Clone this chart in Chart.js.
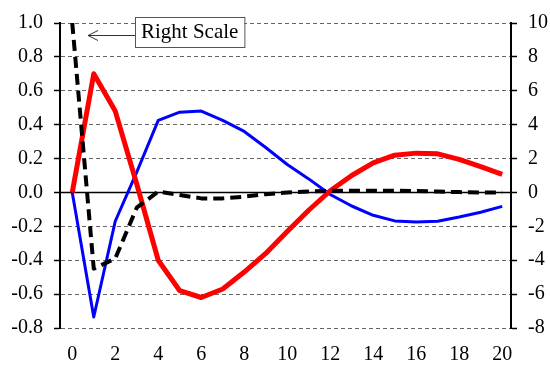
<!DOCTYPE html>
<html>
<head>
<meta charset="utf-8">
<script src="https://cdn.jsdelivr.net/npm/chart.js@4"></script>
<style>
  html, body { margin:0; padding:0; background:#fff; }
  #wrap { width:550px; height:365px; position:relative; }
</style>
</head>
<body>
<div id="wrap"><canvas id="chart"></canvas></div>
<script>
/* Impulse responses — two series on the left scale, one (dashed) on the right scale */

const periods = [0,1,2,3,4,5,6,7,8,9,10,11,12,13,14,15,16,17,18,19,20];
const redSeries = [0, 0.70, 0.48, 0.05, -0.40, -0.58, -0.62, -0.57, -0.47, -0.36, -0.23,
                   -0.105, 0.01, 0.10, 0.175, 0.22, 0.232, 0.228, 0.195, 0.152, 0.107];
const blueSeries = [0, -0.735, -0.17, 0.12, 0.425, 0.474, 0.48, 0.425, 0.36, 0.265, 0.165,
                    0.08, -0.012, -0.08, -0.135, -0.168, -0.175, -0.17, -0.145, -0.117, -0.082];
const dashedSeries = [10, -4.5, -3.9, -0.9, 0.05, -0.15, -0.35, -0.35, -0.25, -0.1, 0,
                      0.05, 0.1, 0.1, 0.1, 0.1, 0.08, 0.05, 0.02, 0, 0];
const xTicks = [0,2,4,6,8,10,12,14,16,18,20];
const noteText = 'Right Scale';

const FONT = "'Liberation Serif', 'Times New Roman', serif";
const pts = arr => arr.map((v,i) => ({x:periods[i], y:v}));

// solid zero line across the plot
const zeroLine = {
  id:'zeroLine',
  beforeDatasetsDraw(chart){
    const {ctx, chartArea:a, scales:{y}} = chart;
    const py = Math.round(y.getPixelForValue(0)) + 0.5;
    ctx.save();
    ctx.strokeStyle = '#000'; ctx.lineWidth = 1.5;
    ctx.beginPath(); ctx.moveTo(a.left, py); ctx.lineTo(a.right, py); ctx.stroke();
    ctx.restore();
  }
};

// "Right Scale" callout with arrow
const callout = {
  id:'callout',
  afterDraw(chart){
    const {ctx} = chart;
    ctx.save();
    ctx.font = '21px ' + FONT;
    const w = ctx.measureText(noteText).width;
    const bx = 135, by = 17, bw = w + 12, bh = 30;
    ctx.fillStyle = '#fff';
    ctx.fillRect(bx, by, bw, bh);
    ctx.strokeStyle = '#555'; ctx.lineWidth = 1;
    ctx.strokeRect(bx + 0.5, by + 0.5, bw, bh);
    ctx.fillStyle = '#000'; ctx.textBaseline = 'alphabetic';
    ctx.fillText(noteText, bx + 6, by + 21);
    // arrow
    const ay = 35.5, tip = 88;
    ctx.strokeStyle = '#333'; ctx.lineWidth = 1;
    ctx.beginPath(); ctx.moveTo(bx, ay); ctx.lineTo(tip, ay); ctx.stroke();
    ctx.beginPath(); ctx.moveTo(tip + 10, ay - 5); ctx.lineTo(tip, ay); ctx.lineTo(tip + 10, ay + 5); ctx.stroke();
    ctx.restore();
  }
};

new Chart(document.getElementById('chart'), {
  type:'line',
  data:{
    datasets:[
      {data:pts(dashedSeries), yAxisID:'y2', borderColor:'#000', borderWidth:4, borderDash:[11,6]},
      {data:pts(redSeries), yAxisID:'y', borderColor:'#ff0000', borderWidth:5},
      {data:pts(blueSeries), yAxisID:'y', borderColor:'#0000ff', borderWidth:3}
    ]
  },
  options:{
    responsive:true, maintainAspectRatio:false, animation:false,
    layout:{padding:{top:20, left:0, right:0, bottom:0}},
    elements:{point:{radius:0}, line:{tension:0, borderJoinStyle:'round', borderCapStyle:'butt'}},
    plugins:{legend:{display:false}, tooltip:{enabled:false}},
    scales:{
      x:{
        type:'linear', min:-0.57, max:20.41,
        grid:{display:false, drawTicks:false}, border:{display:false},
        afterBuildTicks: s => { s.ticks = xTicks.map(v => ({value:v})); },
        afterFit: s => { s.height = 37; },
        ticks:{color:'#000', font:{family:FONT, size:20}, padding:15, maxRotation:0}
      },
      y:{
        position:'left', min:-0.8, max:1.0,
        ticks:{stepSize:0.2, color:'#000', font:{family:FONT, size:20}, padding:11,
               callback: v => Number(v).toFixed(1)},
        grid:{color:'#666', lineWidth:1, tickLength:6, tickColor:'#000', tickWidth:1.5},
        border:{color:'#000', width:2, dash:[4,3]},
        afterFit: s => { s.width = 60; }
      },
      y2:{
        position:'right', min:-8, max:10,
        ticks:{stepSize:2, color:'#000', font:{family:FONT, size:20}, padding:11},
        grid:{drawOnChartArea:false, tickLength:6, tickColor:'#000', tickWidth:1.5},
        border:{color:'#000', width:2},
        afterFit: s => { s.width = 39; }
      }
    }
  },
  plugins:[zeroLine, callout]
});
</script>
</body>
</html>
